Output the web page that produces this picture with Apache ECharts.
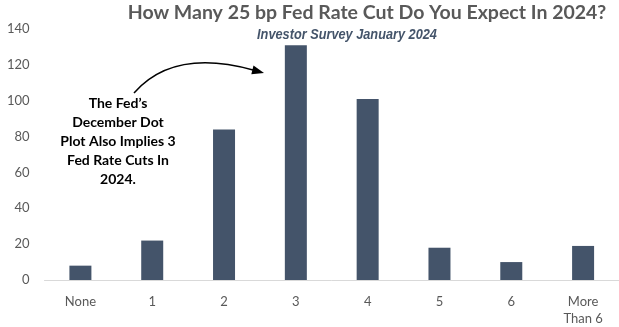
<!DOCTYPE html>
<html>
<head>
<meta charset="utf-8">
<script src="https://cdn.jsdelivr.net/npm/echarts@6/dist/echarts.min.js"></script>
<style>
html,body{margin:0;padding:0;background:#fff;}
#chart{width:619px;height:327px;}
</style>
</head>
<body>
<div id="chart"></div>
<script>
const categories = ['None', '1', '2', '3', '4', '5', '6', 'More\nThan 6'];
const responses = [8, 22, 84, 131, 101, 18, 10, 19];
const yTicks = [0, 20, 40, 60, 80, 100, 120, 140];

const titleText = 'How Many 25 bp Fed Rate Cut Do You Expect In 2024?';
const subtitleText = 'Investor Survey January 2024';
const noteText = 'The Fed\u2019s\nDecember Dot\nPlot Also Implies 3\nFed Rate Cuts In\n2024.';

const chart = echarts.init(document.getElementById('chart'), null, {renderer: 'canvas'});
const font = 'Lato, "Open Sans", sans-serif';

chart.setOption({
  animation: false,
  backgroundColor: '#ffffff',
  grid: {left: 44.5, right: 0, top: 29, bottom: 41, containLabel: false},
  xAxis: {
    type: 'category',
    data: categories,
    axisLine: {show: true, lineStyle: {color: '#d9d9d9', width: 1}},
    axisTick: {show: false},
    axisLabel: {color: '#595959', fontSize: 13, fontFamily: font, margin: 13, lineHeight: 17, interval: 0}
  },
  yAxis: {
    type: 'value',
    min: yTicks[0],
    max: yTicks[yTicks.length - 1],
    interval: 20,
    axisLine: {show: false},
    axisTick: {show: false},
    splitLine: {show: false},
    axisLabel: {color: '#595959', fontSize: 13, fontFamily: font, margin: 15}
  },
  series: [{
    type: 'bar',
    data: responses,
    barWidth: 22,
    itemStyle: {color: '#44546a'}
  }],
  graphic: [
    {type: 'text', x: 367, y: 13, style: {text: titleText, fill: '#595959', font: 'bold 19.5px ' + font, textAlign: 'center', textVerticalAlign: 'middle'}},
    {type: 'text', x: 347, y: 35, scaleX: 0.91, style: {text: subtitleText, fill: '#44546a', font: 'italic bold 14px "Liberation Sans", Arial, sans-serif', textAlign: 'center', textVerticalAlign: 'middle'}},
    {type: 'text', x: 118, y: 94, style: {text: noteText, fill: '#000000', font: 'bold 14px ' + font, textAlign: 'center', textVerticalAlign: 'top', lineHeight: 19}},
    {type: 'bezierCurve', shape: {x1: 134, y1: 93, cpx1: 170, cpy1: 52, cpx2: 224, cpy2: 62, x2: 253, y2: 70}, style: {stroke: '#000', lineWidth: 1.5, fill: null}},
    {type: 'polygon', shape: {points: [[264, 73], [251.3, 74.3], [253.5, 65.6]]}, style: {fill: '#000'}}
  ]
});
</script>
</body>
</html>
